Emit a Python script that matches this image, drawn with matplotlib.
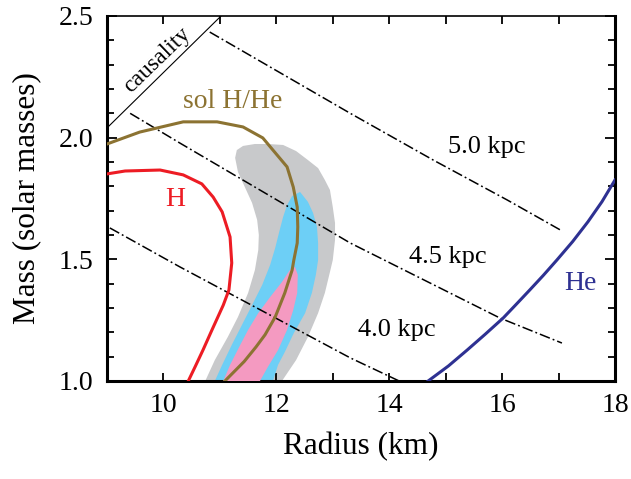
import matplotlib.pyplot as plt
from matplotlib.ticker import MultipleLocator

plt.rcParams['font.family'] = ['Liberation Serif', 'DejaVu Serif']

# ---- curves (radius km, mass Msun) ----
caus_r = [9.0, 11.02]
caus_m = [2.04, 2.50]

h_r = [9.0, 9.32, 9.94, 10.35, 10.68, 10.88, 11.04, 11.18, 11.21, 11.16, 11.06,
       10.86, 10.70, 10.56, 10.44]
h_m = [1.851, 1.863, 1.867, 1.847, 1.810, 1.756, 1.695, 1.592, 1.485, 1.374,
       1.312, 1.210, 1.127, 1.058, 1.0]

sol_r = [9.0, 9.58, 10.35, 10.95, 11.41, 11.76, 11.94, 12.19, 12.30, 12.37, 12.38,
         12.37, 12.31, 12.28, 12.15, 11.98, 11.80, 11.64, 11.43, 11.14, 11.09]
sol_m = [1.974, 2.023, 2.065, 2.065, 2.044, 1.999, 1.949, 1.880, 1.797, 1.715, 1.633,
         1.567, 1.497, 1.456, 1.362, 1.263, 1.190, 1.140, 1.080, 1.012, 1.0]

he_r = [14.69, 15.05, 15.38, 15.70, 16.02, 16.25, 16.49, 16.73, 16.97, 17.25, 17.52,
        17.77, 18.0]
he_m = [1.0, 1.062, 1.127, 1.192, 1.259, 1.315, 1.374, 1.434, 1.497, 1.573, 1.654,
        1.737, 1.826]

# constant-distance tracks
d50_r = [10.82, 13.31, 14.78, 16.09, 17.06]
d50_m = [2.434, 2.10, 1.908, 1.744, 1.617]
d45_r = [9.41, 10.29, 13.31, 15.96, 17.06]
d45_m = [2.10, 1.978, 1.567, 1.259, 1.156]
d40_r = [9.05, 10.29, 13.31, 14.14, 14.28]
d40_m = [1.629, 1.469, 1.095, 1.004, 0.988]

# confidence regions (outer, middle, inner)
grey_r = [10.74, 10.91, 11.14, 11.32, 11.50, 11.62, 11.68, 11.69, 11.66, 11.57, 11.45,
          11.32, 11.27, 11.30, 11.41, 11.62, 11.85, 12.12, 12.35, 12.56, 12.74, 12.86,
          12.95, 13.00, 13.04, 13.04, 13.00, 12.95, 12.86, 12.74, 12.56, 12.35, 12.10]
grey_m = [1.0, 1.086, 1.181, 1.263, 1.362, 1.456, 1.538, 1.60, 1.662, 1.732, 1.793,
          1.859, 1.917, 1.949, 1.966, 1.974, 1.974, 1.970, 1.945, 1.908, 1.875, 1.826,
          1.785, 1.715, 1.649, 1.58, 1.497, 1.448, 1.362, 1.279, 1.181, 1.086, 1.0]

blue_r = [12.42, 12.56, 12.65, 12.72, 12.74, 12.74, 12.70, 12.63, 12.51, 12.31, 12.15,
          12.03, 11.94, 10.91, 11.04, 11.21, 11.39, 11.57, 11.75, 11.89, 11.98, 12.05,
          12.12, 12.19, 12.28]
blue_m = [1.777, 1.736, 1.691, 1.633, 1.567, 1.497, 1.436, 1.362, 1.279, 1.197, 1.119,
          1.066, 1.0, 1.0, 1.066, 1.148, 1.23, 1.312, 1.395, 1.477, 1.547, 1.612,
          1.674, 1.723, 1.760]

pink_r = [12.33, 12.38, 12.37, 12.30, 12.19, 12.03, 11.85, 11.71, 11.06, 11.18, 11.36,
          11.50, 11.68, 11.89, 12.10, 12.24]
pink_m = [1.469, 1.436, 1.362, 1.292, 1.21, 1.127, 1.058, 1.0, 1.0, 1.066, 1.148,
          1.21, 1.279, 1.345, 1.407, 1.456]

fig = plt.figure(figsize=(6.31, 4.79), dpi=100)
ax = fig.add_axes([0.1696, 0.2046, 0.805, 0.762])

ax.fill(grey_r, grey_m, color='#c8c9cb', lw=0, zorder=1)
ax.fill(blue_r, blue_m, color='#6dcff6', lw=0, zorder=2)
ax.fill(pink_r, pink_m, color='#f49ac1', lw=0, zorder=3)

dd = dict(color='black', lw=1.1, dashes=(7, 2, 1.2, 2), zorder=4)
ax.plot(d50_r, d50_m, **dd)
ax.plot(d45_r, d45_m, **dd)
ax.plot(d40_r, d40_m, **dd)

ax.plot(caus_r, caus_m, color='black', lw=0.8, zorder=4)
ax.plot(h_r, h_m, color='#ed1c24', lw=2.2, zorder=5)
ax.plot(sol_r, sol_m, color='#8c7332', lw=2.2, zorder=5)
ax.plot(he_r, he_m, color='#2e3192', lw=2.2, zorder=5)

ax.text(9.88, 2.32, 'causality', fontsize=17, rotation=44, rotation_mode='anchor',
        ha='center', va='center')
ax.text(11.23, 2.147, 'sol H/He', fontsize=20, color='#8c7332', ha='center', va='center')
ax.text(10.2, 1.744, 'H', fontsize=20, color='#ed1c24', ha='center', va='center')
ax.text(17.38, 1.40, 'He', fontsize=20, color='#2e3192', ha='center', va='center')
ax.text(15.73, 1.96, '5.0 kpc', fontsize=19, ha='center', va='center')
ax.text(15.04, 1.51, '4.5 kpc', fontsize=19, ha='center', va='center')
ax.text(14.14, 1.21, '4.0 kpc', fontsize=19, ha='center', va='center')

ax.set_xlim(9, 18)
ax.set_ylim(1.0, 2.5)
ax.xaxis.set_major_locator(MultipleLocator(2))
ax.xaxis.set_minor_locator(MultipleLocator(1))
ax.yaxis.set_major_locator(MultipleLocator(0.5))
ax.yaxis.set_minor_locator(MultipleLocator(0.1))
ax.yaxis.set_major_formatter(lambda v, p: f'{v:.1f}')

ax.tick_params(which='both', direction='in', top=True, right=True, width=1.3,
               labelsize=20)
ax.tick_params(axis='x', which='both', length=6, pad=9)
ax.tick_params(axis='y', which='major', length=7, pad=10)
ax.tick_params(axis='y', which='minor', length=5)

for side in ['left', 'bottom', 'right']:
    ax.spines[side].set_linewidth(2.2)
ax.spines['top'].set_linewidth(1.2)

ax.set_xlabel('Radius (km)', fontsize=22.5, labelpad=10)
ax.set_ylabel('Mass (solar masses)', fontsize=22.5, labelpad=12)

fig.savefig('out.png', dpi=100)
